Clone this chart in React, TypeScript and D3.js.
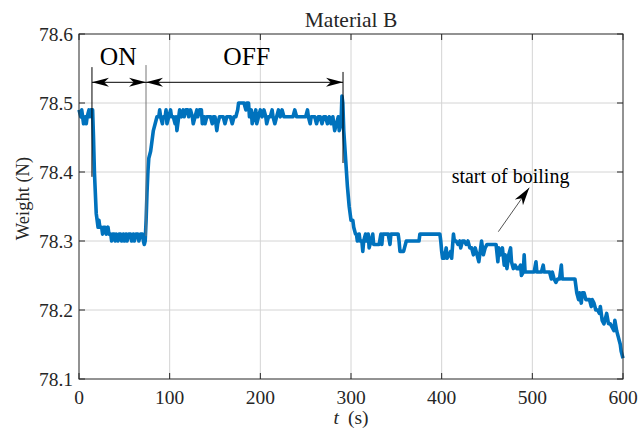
import React from 'react';
import * as d3 from 'd3';

const time = [
  0, 2, 3, 4, 5, 7, 8, 9, 11, 12, 13, 15, 16, 17, 18, 19, 20, 21, 22, 23, 25, 26, 27, 29, 30, 32, 33, 35, 36, 37, 39, 40,
  41, 43, 44, 46, 47, 49, 50, 52, 53, 55, 57, 58, 60, 61, 63, 65, 66, 68, 70, 71, 72, 73, 74, 75, 76, 77, 79, 80, 82, 84,
  86, 88, 89, 90, 92, 93, 95, 96, 97, 99, 101, 102, 104, 106, 107, 108, 110, 111, 113, 115, 116, 118, 120, 121, 123, 125,
  126, 128, 130, 131, 133, 135, 136, 138, 139, 141, 143, 145, 147, 148, 150, 152, 153, 155, 157, 159, 161, 163, 165, 167,
  169, 171, 173, 175, 176, 178, 180, 182, 184, 185, 187, 188, 190, 191, 193, 195, 196, 198, 200, 202, 204, 206, 207, 209,
  211, 213, 214, 216, 218, 220, 222, 224, 226, 228, 230, 232, 234, 236, 238, 240, 242, 244, 246, 248, 250, 252, 253, 255,
  256, 258, 260, 262, 264, 266, 268, 270, 272, 274, 276, 278, 280, 282, 284, 286, 287, 289, 290, 291, 292, 294, 296, 298,
  300, 302, 303, 305, 306, 307, 309, 310, 312, 313, 314, 316, 317, 319, 320, 322, 324, 325, 327, 329, 331, 333, 334, 335,
  337, 339, 341, 343, 344, 346, 348, 350, 352, 353, 354, 356, 358, 359, 361, 363, 365, 367, 369, 371, 373, 375, 376, 378,
  380, 382, 384, 386, 388, 390, 392, 394, 396, 398, 399, 400, 401, 403, 405, 406, 408, 410, 411, 413, 414, 416, 418, 420,
  421, 423, 425, 427, 429, 431, 433, 435, 437, 439, 441, 443, 444, 446, 448, 450, 452, 454, 456, 458, 460, 462, 463, 465,
  467, 469, 470, 472, 474, 476, 477, 479, 481, 483, 485, 487, 488, 490, 491, 492, 494, 496, 498, 500, 502, 504, 505, 506,
  508, 510, 512, 513, 515, 517, 519, 521, 522, 524, 526, 528, 530, 532, 533, 535, 537, 539, 541, 543, 545, 547, 548, 549,
  551, 552, 554, 555, 557, 559, 561, 563, 565, 566, 568, 570, 572, 574, 575, 577, 579, 581, 582, 584, 586, 588, 590, 591,
  593, 595, 597, 598, 600,
];

const weight = [
  78.49, 78.48, 78.49, 78.48, 78.47, 78.48, 78.47, 78.48, 78.49, 78.48, 78.49, 78.49, 78.45, 78.40, 78.37, 78.34, 78.33,
  78.32, 78.33, 78.32, 78.32, 78.31, 78.32, 78.32, 78.31, 78.32, 78.31, 78.31, 78.30, 78.31, 78.31, 78.30,
  78.31, 78.30, 78.31, 78.31, 78.30, 78.31, 78.30, 78.31, 78.30, 78.31, 78.31, 78.30, 78.31, 78.30, 78.31, 78.31, 78.30,
  78.31, 78.31, 78.30, 78.295, 78.30, 78.33, 78.37, 78.40, 78.42, 78.43, 78.44, 78.46, 78.47,
  78.48, 78.48, 78.49, 78.48, 78.47, 78.48, 78.48, 78.49, 78.47, 78.48, 78.49, 78.48, 78.48, 78.47, 78.48, 78.46, 78.48,
  78.49, 78.48, 78.49, 78.48, 78.49, 78.49, 78.48, 78.49, 78.48,
  78.47, 78.48, 78.49, 78.48, 78.49, 78.49, 78.47, 78.48, 78.47, 78.48, 78.48, 78.48, 78.47, 78.48, 78.48, 78.46, 78.47,
  78.48, 78.48, 78.48, 78.47, 78.48, 78.48, 78.48,
  78.47, 78.48, 78.48, 78.49, 78.50, 78.50, 78.50, 78.50, 78.49, 78.50, 78.50, 78.48, 78.49, 78.47, 78.48, 78.49, 78.47,
  78.48, 78.49, 78.48, 78.49, 78.48, 78.47, 78.48,
  78.48, 78.49, 78.48, 78.47, 78.48, 78.49, 78.48, 78.49, 78.48, 78.48, 78.48, 78.48, 78.48, 78.48, 78.49, 78.48, 78.48,
  78.48, 78.48, 78.48, 78.48, 78.49, 78.48, 78.47,
  78.48, 78.48, 78.48, 78.47, 78.48, 78.48, 78.47, 78.48, 78.48, 78.47, 78.48, 78.47, 78.48, 78.46, 78.47, 78.48, 78.46,
  78.47, 78.51, 78.50, 78.46, 78.42, 78.38, 78.35,
  78.33, 78.33, 78.32, 78.31, 78.31, 78.30, 78.31, 78.30, 78.30, 78.285, 78.30, 78.31, 78.30, 78.31, 78.29, 78.30, 78.31,
  78.295, 78.295, 78.295, 78.295, 78.31, 78.295, 78.31,
  78.31, 78.31, 78.31, 78.295, 78.31, 78.31, 78.31, 78.31, 78.31, 78.30, 78.285, 78.285, 78.285, 78.29, 78.30, 78.30, 78.30,
  78.30, 78.30, 78.30, 78.30, 78.30, 78.31, 78.31,
  78.31, 78.31, 78.31, 78.31, 78.31, 78.31, 78.31, 78.31, 78.31, 78.31, 78.30, 78.285, 78.275, 78.275, 78.29, 78.275, 78.28,
  78.285, 78.275, 78.31, 78.30, 78.30, 78.295, 78.30,
  78.29, 78.30, 78.30, 78.295, 78.30, 78.29, 78.29, 78.28, 78.29, 78.28, 78.27, 78.29, 78.30, 78.28, 78.29, 78.295, 78.295,
  78.295, 78.295, 78.295, 78.295, 78.27, 78.29, 78.28,
  78.29, 78.265, 78.28, 78.26, 78.28, 78.29, 78.27, 78.26, 78.265, 78.26, 78.26, 78.265, 78.25, 78.255, 78.28, 78.255,
  78.255, 78.255, 78.255, 78.255, 78.255, 78.27, 78.255, 78.255,
  78.255, 78.255, 78.265, 78.255, 78.255, 78.255, 78.255, 78.245, 78.255, 78.245, 78.24, 78.245, 78.245, 78.265, 78.245,
  78.245, 78.245, 78.245, 78.245, 78.245, 78.245, 78.245, 78.235, 78.225,
  78.215, 78.225, 78.21, 78.225, 78.225, 78.215, 78.215, 78.215, 78.205, 78.215, 78.21, 78.20, 78.20, 78.195, 78.205,
  78.185, 78.18, 78.19, 78.195, 78.18, 78.18, 78.175, 78.17, 78.185,
  78.17, 78.16, 78.15, 78.14, 78.13,
];

const xTicks = [0, 100, 200, 300, 400, 500, 600];
const yTicks = [78.1, 78.2, 78.3, 78.4, 78.5, 78.6];

// annotation anchors in data units
const onStart = 14.3;
const offStart = 73.9;
const offEnd = 291.2;
const arrowLevel = 78.53;
const boilTail = [462.5, 78.3135];
const boilTip = [496.6, 78.3772];

const W = 641;
const H = 434;
const margin = { top: 34, right: 18, bottom: 55, left: 79 };
const font = '"Liberation Serif", "Times New Roman", serif';

function arrowHead(tx: number, ty: number, angle: number, len: number, wid: number) {
  const c = Math.cos(angle), s = Math.sin(angle);
  const p = (a: number, b: number) => [tx + a * c - b * s, ty + a * s + b * c];
  const pts = [p(0, 0), p(-len, -wid / 2), p(-len * 0.72, 0), p(-len, wid / 2)];
  return 'M' + pts.map(q => q.join(',')).join('L') + 'Z';
}

export default function App() {
  const x = d3.scaleLinear().domain([0, 600]).range([margin.left, W - margin.right]);
  const y = d3.scaleLinear().domain([78.1, 78.6]).range([H - margin.bottom, margin.top]);

  const pts = time.map((t, i) => [t, weight[i]] as [number, number]);
  const line = d3.line<[number, number]>().x(d => x(d[0])).y(d => y(d[1]));

  const x0 = x(0), x1 = x(600), y0 = y(78.1), y1 = y(78.6);
  const tk = 6;
  const ay = y(arrowLevel);

  const bx0 = x(boilTail[0]), by0 = y(boilTail[1]);
  const bx1 = x(boilTip[0]), by1 = y(boilTip[1]);
  const bAng = Math.atan2(by1 - by0, bx1 - bx0);

  return (
    <div style={{ position: 'fixed', left: 0, top: 0 }}>
      <svg width={W} height={H} style={{ display: 'block', background: '#fff' }}>
        {/* grid */}
        <g stroke="#d4d4d4" strokeWidth={1}>
          {xTicks.slice(1, -1).map(t => (
            <line key={'gx' + t} x1={x(t)} x2={x(t)} y1={y0} y2={y1} />
          ))}
          {yTicks.slice(1, -1).map(v => (
            <line key={'gy' + v} x1={x0} x2={x1} y1={y(v)} y2={y(v)} />
          ))}
        </g>

        {/* data */}
        <path d={line(pts) || ''} fill="none" stroke="#0072BD" strokeWidth={3.6} strokeLinejoin="round" />

        {/* axes box + inward ticks */}
        <g stroke="#262626" strokeWidth={1} fill="none">
          <rect x={x0} y={y1} width={x1 - x0} height={y0 - y1} />
          {xTicks.map(t => (
            <g key={'tx' + t}>
              <line x1={x(t)} x2={x(t)} y1={y0} y2={y0 - tk} />
              <line x1={x(t)} x2={x(t)} y1={y1} y2={y1 + tk} />
            </g>
          ))}
          {yTicks.map(v => (
            <g key={'ty' + v}>
              <line x1={x0} x2={x0 + tk} y1={y(v)} y2={y(v)} />
              <line x1={x1} x2={x1 - tk} y1={y(v)} y2={y(v)} />
            </g>
          ))}
        </g>

        <g fontFamily={font} fill="#262626" fontSize={19.5}>
          {xTicks.map(t => (
            <text key={'lx' + t} x={x(t)} y={y0 + 24.5} textAnchor="middle">{t}</text>
          ))}
          {yTicks.map(v => (
            <text key={'ly' + v} x={x0 - 6} y={y(v) + 6.5} textAnchor="end">{v.toFixed(1)}</text>
          ))}
          <text x={(x0 + x1) / 2} y={y0 + 45} textAnchor="middle">
            <tspan fontStyle="italic">t</tspan>
            <tspan dx={9}>(s)</tspan>
          </text>
          <text transform={`translate(29,${(y0 + y1) / 2 - 8}) rotate(-90)`} textAnchor="middle" fontSize={18.5}>
            Weight (N)
          </text>
          <text x={(x0 + x1) / 2} y={26.5} textAnchor="middle" fontSize={21.5}>Material B</text>
        </g>

        {/* ON / OFF annotation */}
        <g stroke="#000" strokeWidth={1}>
          <line x1={x(onStart)} x2={x(onStart)} y1={y(78.552)} y2={y(78.393)} />
          <line x1={x(offStart)} x2={x(offStart)} y1={y(78.555)} y2={y(78.307)} stroke="#777" />
          <line x1={x(offEnd)} x2={x(offEnd)} y1={y(78.545)} y2={y(78.413)} />
          <line x1={x(onStart)} x2={x(offStart)} y1={ay} y2={ay} />
          <line x1={x(offStart)} x2={x(offEnd)} y1={ay} y2={ay} />
        </g>
        <g fill="#000">
          <path d={arrowHead(x(onStart), ay, Math.PI, 17, 9)} />
          <path d={arrowHead(x(offStart), ay, 0, 17, 9)} />
          <path d={arrowHead(x(offStart), ay, Math.PI, 17, 9)} />
          <path d={arrowHead(x(offEnd), ay, 0, 17, 9)} />
        </g>
        <g fontFamily={font} fill="#000" fontSize={25.5} textAnchor="middle">
          <text x={x(43.3)} y={y(78.555)}>ON</text>
          <text x={x(185)} y={y(78.555)}>OFF</text>
        </g>

        {/* boiling annotation */}
        <line x1={bx0} y1={by0} x2={bx1} y2={by1} stroke="#262626" strokeWidth={0.8} />
        <path d={arrowHead(bx1, by1, bAng, 18, 10)} fill="#000" />
        <text x={x(411)} y={y(78.3845)} fontFamily={font} fontSize={20} fill="#000">start of boiling</text>
      </svg>
    </div>
  );
}
